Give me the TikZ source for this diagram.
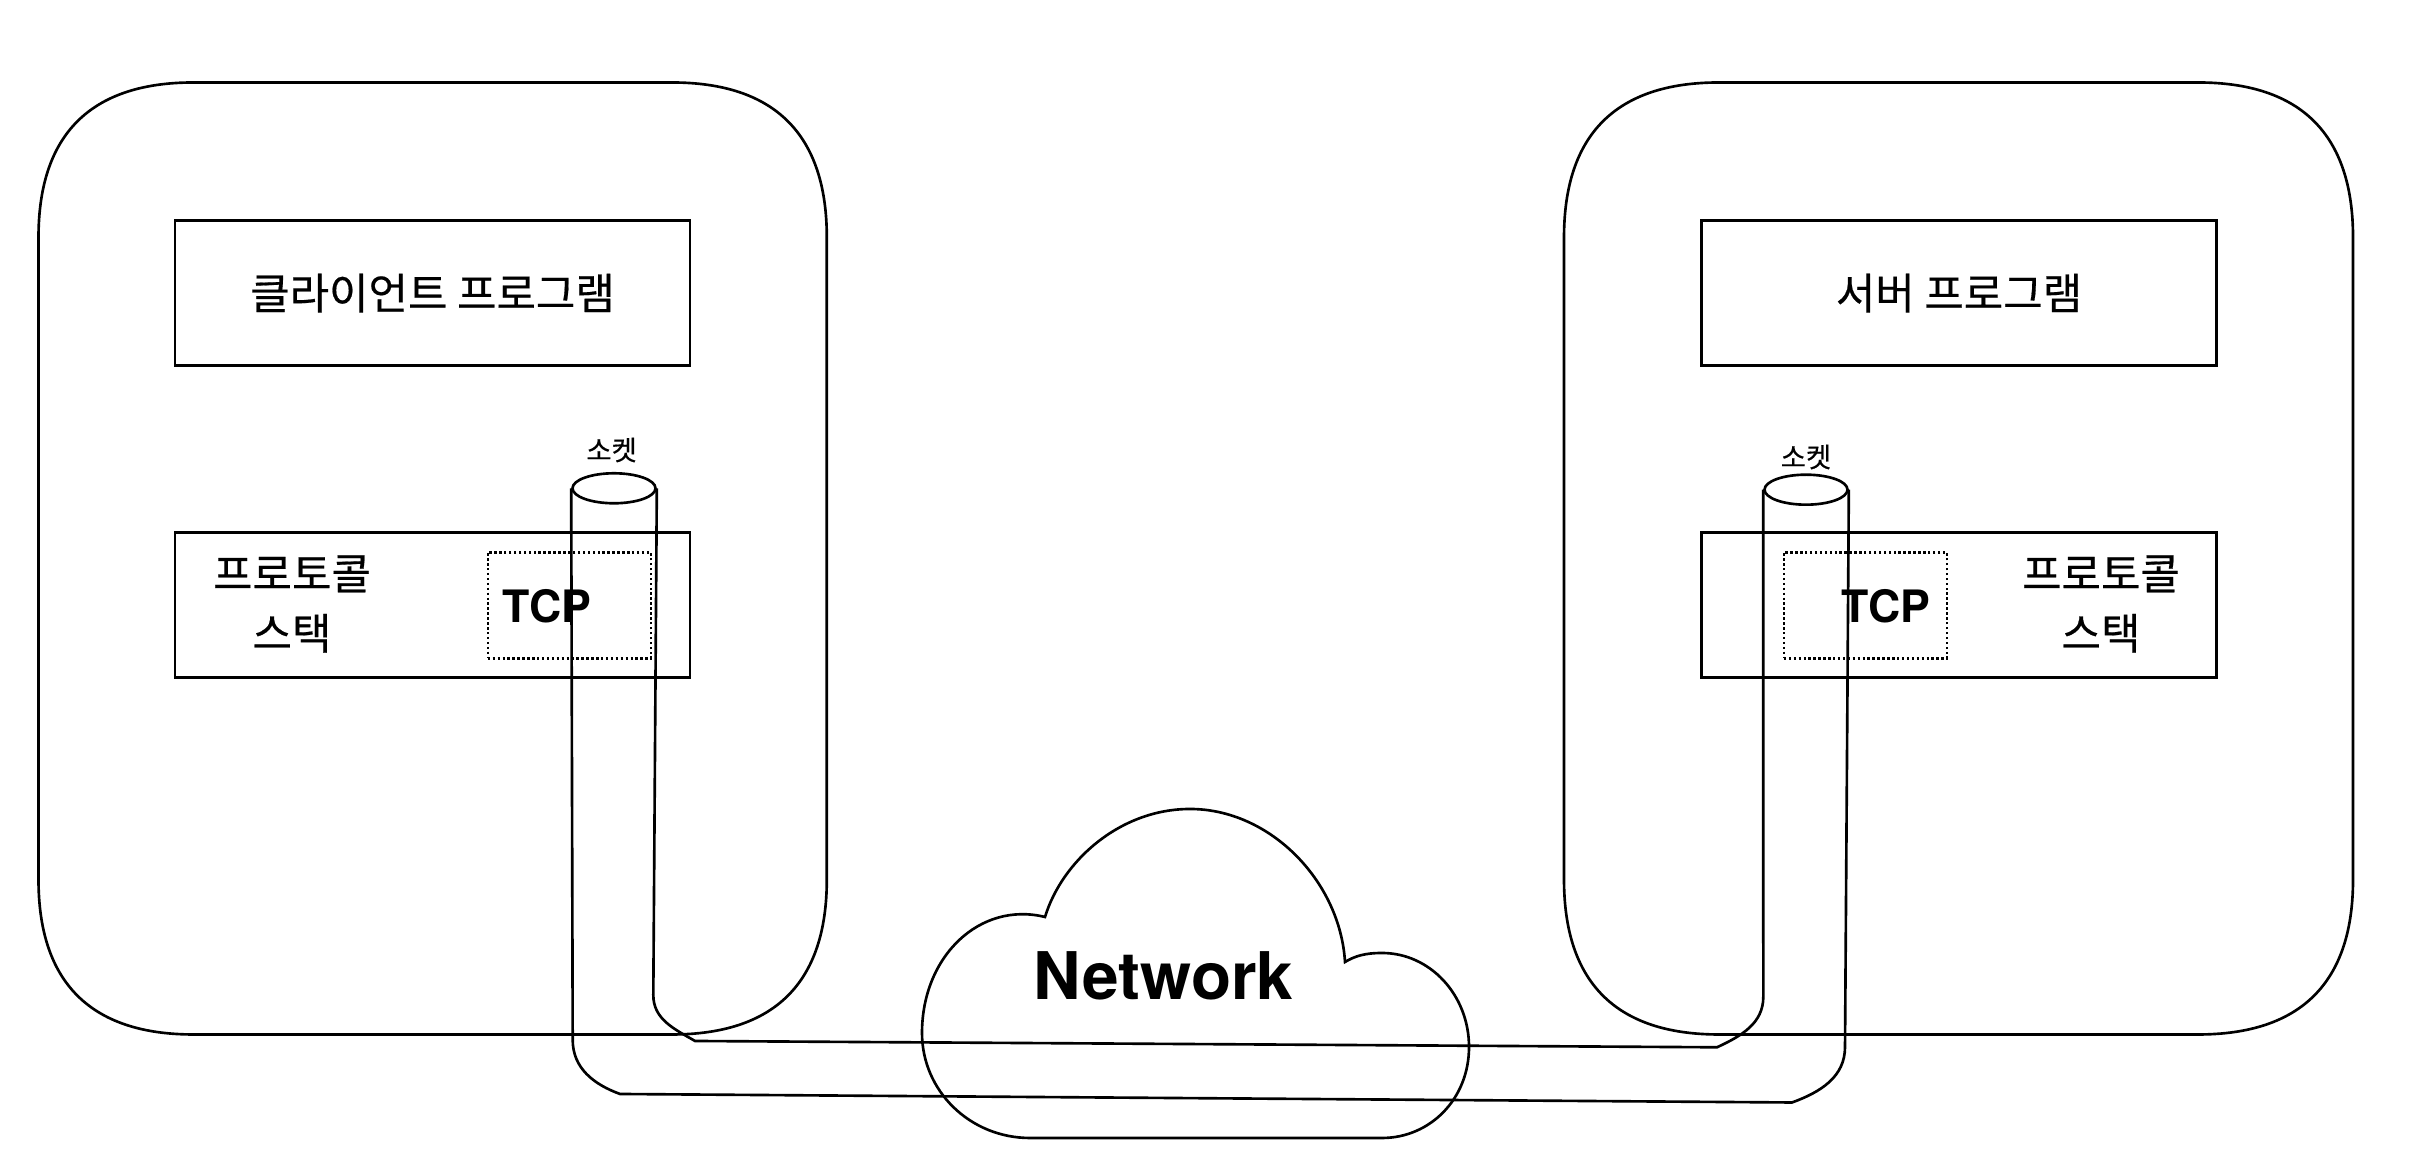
\documentclass[tikz,border=0pt]{standalone}
\usepackage{fontspec}
\setmainfont{TeX Gyre Heros}
\newfontfamily\krfont{Noto Sans CJK KR}[FakeBold=0.4]
\usetikzlibrary{shapes.geometric}

% squarish rounded outline: x0 y0 x1 y1
\newcommand{\hostbox}[4]{%
  \draw (#1,#4-1.55) -- (#1,#2+1.55) .. controls (#1,#2+0.52) and (#1+0.52,#2) .. (#1+1.55,#2)
    -- (#3-1.55,#2) .. controls (#3-0.52,#2) and (#3,#2+0.52) .. (#3,#2+1.55)
    -- (#3,#4-1.55) .. controls (#3,#4-0.52) and (#3-0.52,#4) .. (#3-1.55,#4)
    -- (#1+1.55,#4) .. controls (#1+0.52,#4) and (#1,#4-0.52) .. cycle;}

\begin{document}
\begin{tikzpicture}[line width=0.75pt,
  rec/.style={draw,minimum width=5.15cm,minimum height=1.45cm,align=center,font=\krfont\fontsize{12.2}{17}\selectfont},
  tcpbox/.style={draw,line width=0.7pt,dash pattern=on 0.7pt off 0.7pt,minimum width=1.63cm,minimum height=1.06cm},
  sock/.style={draw,ellipse,fill=white,minimum width=0.83cm,minimum height=0.30cm,inner sep=0pt},
  stk/.style={align=center,font=\krfont\fontsize{12.2}{17}\selectfont},
  lbl/.style={font=\krfont\fontsize{7.8}{9}\selectfont},
  tcp/.style={font=\fontsize{12.7}{15}\selectfont\bfseries}]
\useasboundingbox (0,0) rectangle (24.14,11.56);
% hosts
\hostbox{0.385}{1.215}{8.268}{10.735}
\hostbox{15.64}{1.215}{23.53}{10.735}
\node[rec] (client) at (4.325,8.628) {클라이언트 프로그램};
\node[rec] (server) at (19.59,8.628) {서버 프로그램};
\node[rec] (stackL) at (4.325,5.508) {};
\node[rec] (stackR) at (19.59,5.508) {};
\node[tcpbox] (tcpL) at (5.693,5.507) {};
\node[tcpbox] (tcpR) at (18.653,5.507) {};
\node[stk] (protoL) at (2.92,5.52) {프로토콜\\스택};
\node[stk] (protoR) at (21.01,5.52) {프로토콜\\스택};
\node[tcp] (tcptxtL) at (5.47,5.50) {TCP};
\node[tcp] (tcptxtR) at (18.86,5.50) {TCP};
% network cloud
\draw (10.30,0.18) .. controls (9.70,0.18) and (9.22,0.65) .. (9.22,1.23)
  .. controls (9.22,2.0) and (9.80,2.55) .. (10.45,2.39)
  .. controls (10.62,2.95) and (11.20,3.47) .. (11.90,3.47)
  .. controls (12.70,3.47) and (13.40,2.75) .. (13.45,1.94)
  .. controls (13.55,2.0) and (13.65,2.03) .. (13.82,2.03)
  .. controls (14.30,2.03) and (14.69,1.61) .. (14.69,1.09)
  .. controls (14.69,0.57) and (14.30,0.18) .. (13.82,0.18) -- cycle;
\node[font=\fontsize{18.7}{23}\selectfont\bfseries] (net) at (11.635,1.80) {Network};
% sockets
\node[sock] (sockL) at (6.14,6.677) {};
\node[sock] (sockR) at (18.06,6.663) {};
\node[lbl] (sockLblL) at (6.116,7.06) {소켓};
\node[lbl] (sockLblR) at (18.06,6.99) {소켓};
\draw (sockL.west) -- (5.727,1.16) to[out=-90,in=160] (6.20,0.62)
  -- (17.92,0.535) to[out=20,in=-90] (18.45,1.09) -- (sockR.east);
\draw (sockL.east) -- (6.533,1.61) to[out=-90,in=150] (6.95,1.15)
  -- (17.17,1.087) to[out=25,in=-90] (17.633,1.593) -- (sockR.west);
\end{tikzpicture}
\end{document}
